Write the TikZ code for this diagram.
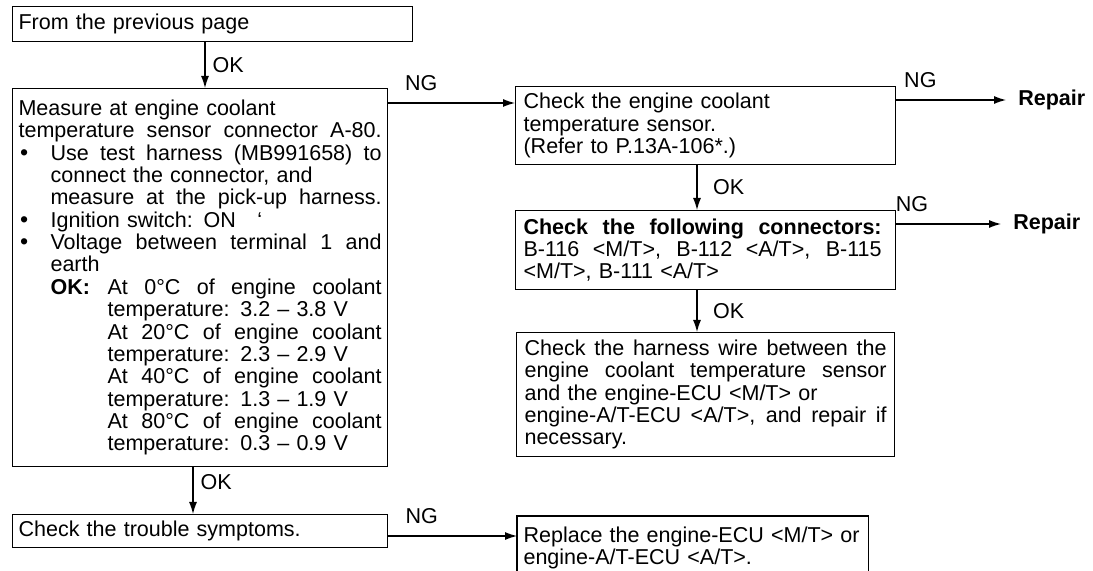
\documentclass[tikz,border=0pt]{standalone}
\usepackage{fontspec}
\setmainfont{Liberation Sans}
\usetikzlibrary{arrows.meta}

\newcommand{\fs}{\fontsize{15.3}{15.9}\selectfont}
\newcommand{\fillline}[2]{\makebox[#1][s]{\spaceskip=0.2778em plus 1fil\relax #2}}
\newcommand{\itembul}{\makebox[0.8cm][l]{\hspace{0.04cm}\fontsize{16.5}{16.5}\selectfont\textbullet}}
\newcommand{\indone}{\hspace*{0.8cm}}
\newcommand{\indtwo}{\hspace*{2.225cm}}

\begin{document}
\begin{tikzpicture}[x=0.025cm,y=-0.025cm,
    every node/.style={font=\fs},
    box/.style={draw, line width=0.8pt, anchor=north west, align=left, inner ysep=0pt},
    arr/.style={line width=0.8pt, -{Latex[length=0.3cm,width=0.2cm]}},
    lbl/.style={inner sep=0pt},
    repair/.style={anchor=west, font=\fs\bfseries, inner xsep=0.3cm}]
  \clip (0,0) rectangle (1093,571);

  % left column
  \node[box, inner xsep=0.15cm, text width=9.7cm, minimum height=0.875cm] (prev) at (12,6)
    {From the previous page};
  \node[box, inner xsep=0.15cm, text width=9.075cm, minimum height=9.45cm] (meas) at (12,88)
    {Measure at engine coolant\\
     \fillline{9.075cm}{temperature sensor connector A-80.}\\
     \itembul\fillline{8.275cm}{Use test harness (MB991658) to}\\
     \indone connect the connector, and\\
     \indone\fillline{8.275cm}{measure at the pick-up harness.}\\
     \itembul Ignition switch: ON\quad`\\
     \itembul\fillline{8.275cm}{Voltage between terminal 1 and}\\
     \indone earth\\
     \indone\makebox[1.425cm][l]{\textbf{OK:}}\fillline{6.85cm}{At 0°C of engine coolant}\\
     \indtwo temperature: 3.2 -- 3.8 V\\
     \indtwo\fillline{6.85cm}{At 20°C of engine coolant}\\
     \indtwo temperature: 2.3 -- 2.9 V\\
     \indtwo\fillline{6.85cm}{At 40°C of engine coolant}\\
     \indtwo temperature: 1.3 -- 1.9 V\\
     \indtwo\fillline{6.85cm}{At 80°C of engine coolant}\\
     \indtwo temperature: 0.3 -- 0.9 V\\[-0.25cm]};
  \node[box, inner xsep=0.15cm, text width=9.075cm, minimum height=0.825cm] (trbl) at (12,514)
    {Check the trouble symptoms.};

  % right column
  \node[box, inner xsep=0.2cm, text width=9.1cm, minimum height=1.95cm] (sens) at (515,86)
    {Check the engine coolant\\
     temperature sensor.\\
     (Refer to P.13A-106*.)};
  \node[box, inner xsep=0.2cm, text width=9.1cm, minimum height=1.975cm] (conn) at (515,210)
    {\fillline{8.95cm}{\textbf{Check the following connectors:}}\\
     \fillline{8.95cm}{B-116 <M/T>, B-112 <A/T>, B-115}\\
     <M/T>, B-111 <A/T>};
  \node[box, inner xsep=0.2cm, text width=9.05cm, minimum height=3.1cm] (harn) at (516,332)
    {\fillline{9.05cm}{Check the harness wire between the}\\
     \fillline{9.05cm}{engine coolant temperature sensor}\\
     and the engine-ECU <M/T> or\\
     \fillline{9.05cm}{engine-A/T-ECU <A/T>, and repair if}\\
     necessary.};
  \node[box, draw=none, inner xsep=0.15cm, text width=8.45cm, minimum height=1.575cm] (repl) at (517,516)
    {Replace the engine-ECU <M/T> or\\
     engine-A/T-ECU <A/T>.};
  \draw[line width=0.8pt] (repl.south west) |- (repl.north east) -- (repl.south east);

  \node[repair] (rep1) at (1006,100) {Repair};
  \node[repair] (rep2) at (1001,224) {Repair};

  % connectors
  \coordinate (xa) at (205,0);
  \coordinate (xb) at (193,0);
  \coordinate (xc) at (697,0);
  \coordinate (ya) at (0,103);
  \coordinate (yb) at (0,536);

  \draw[arr] (prev.south -| xa) -- node[lbl, right=5pt] {OK} (meas.north -| xa);
  \draw[arr] (meas.south -| xb) -- node[lbl, right=5pt, pos=0.32] {OK} (trbl.north -| xb);
  \draw[arr] (sens.south -| xc) -- node[lbl, right=11pt] {OK} (conn.north -| xc);
  \draw[arr] (conn.south -| xc) -- node[lbl, right=11pt] {OK} (harn.north -| xc);

  \draw[arr] (meas.east |- ya) -- node[lbl, above=8.5pt, pos=0.26] {NG} (sens.west |- ya);
  \draw[arr] (trbl.east |- yb) -- node[lbl, above=8.5pt, pos=0.26] {NG} (repl.west |- yb);
  \draw[arr] (sens.east |- rep1) -- node[lbl, above=8pt, pos=0.22] {NG} (rep1.west);
  \draw[arr] (conn.east |- rep2) -- node[lbl, above=8.5pt, pos=0.15] {NG} (rep2.west);
\end{tikzpicture}
\end{document}
